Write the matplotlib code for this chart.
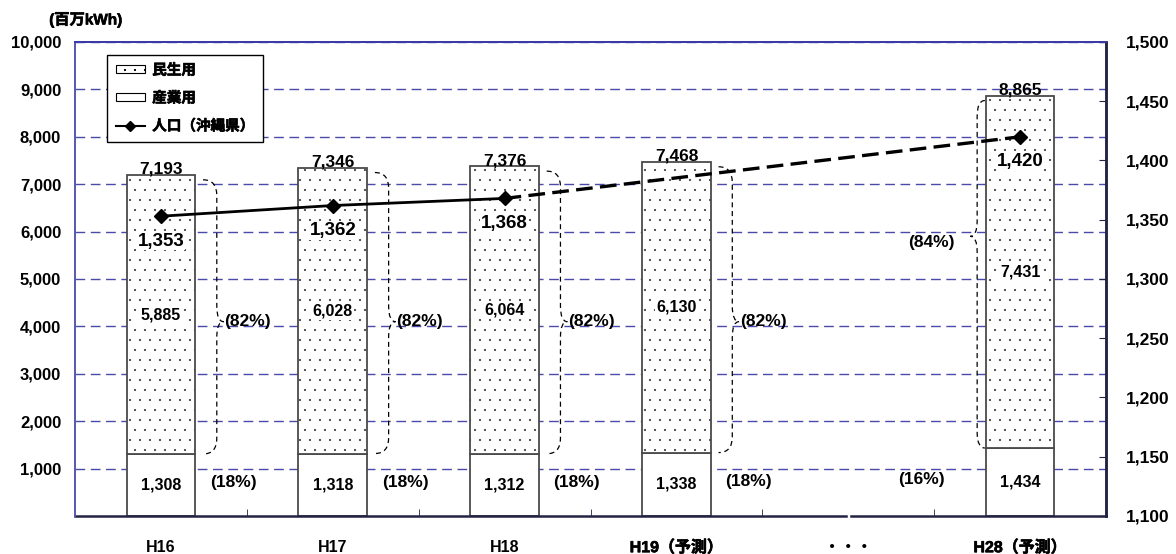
import matplotlib
matplotlib.use('Agg')
import matplotlib.pyplot as plt
import matplotlib.hatch as mhatch
import matplotlib.patheffects as pe
from matplotlib.path import Path
from matplotlib.patches import PathPatch, Patch
from matplotlib.lines import Line2D
from matplotlib.ticker import FuncFormatter

plt.rcParams['font.family'] = ['Liberation Sans', 'Noto Sans CJK JP']
plt.rcParams['font.weight'] = 'bold'
plt.rcParams['hatch.linewidth'] = 0.7


# sparser, finer dot hatch than the stock '.' one (closer to the original screen tone)
class SparseDots(mhatch.Circles):
    size = 0.06
    filled = True

    def __init__(self, hatch, density):
        self.num_rows = hatch.count('.') * 10
        super().__init__(hatch, density)


mhatch._hatch_types = [SparseDots if c is mhatch.SmallFilledCircles else c
                       for c in mhatch._hatch_types]

# data
categories = ['H16', 'H17', 'H18', 'H19（予測）', '・・・', 'H28（予測）']
bar_pos = [0, 1, 2, 3, 5]
sangyo = [1308, 1318, 1312, 1338, 1434]      # 産業用
minsei = [5885, 6028, 6064, 6130, 7431]      # 民生用
totals = [7193, 7346, 7376, 7468, 8865]
minsei_pct = [82, 82, 82, 82, 84]
sangyo_pct = [18, 18, 18, 18, 16]
pop_pos = [0, 1, 2, 5]
population = [1353, 1362, 1368, 1420]        # 人口(沖縄県)

EDGE = '#4a4a4a'
GRID = '#4a4aaa'
W = 0.4
BOLDER = [pe.withStroke(linewidth=0.45, foreground='black')]


def brace(ax, x_edge, side, y_top, y_bot, y_tip, d0, d1, d2, r=330):
    xs = x_edge + side * d0
    xv = x_edge + side * d1
    xt = x_edge + side * d2
    verts = [(xs, y_top), (xv, y_top), (xv, y_top - r),
             (xv, y_tip + r), (xv, y_tip), (xt, y_tip),
             (xv, y_tip), (xv, y_tip - r),
             (xv, y_bot + r), (xv, y_bot), (xs, y_bot)]
    codes = [Path.MOVETO, Path.CURVE3, Path.CURVE3,
             Path.LINETO, Path.CURVE3, Path.CURVE3,
             Path.CURVE3, Path.CURVE3,
             Path.LINETO, Path.CURVE3, Path.CURVE3]
    ax.add_patch(PathPatch(Path(verts, codes), fill=False, lw=0.9,
                           ls=(0, (4, 3)), ec='black', zorder=4))
    return xt


fig = plt.figure(figsize=(11.76, 5.54), dpi=100)
ax = fig.add_axes([0.0638, 0.0686, 0.8767, 0.8556])
ax2 = ax.twinx()

ax.set_axisbelow(True)
ax.bar(bar_pos, sangyo, width=W, color='white', edgecolor=EDGE, lw=1.3, zorder=2)
ax.bar(bar_pos, minsei, bottom=sangyo, width=W, color='white', edgecolor=EDGE,
       hatch='.', lw=1.3, zorder=2)

for i, x in enumerate(bar_pos):
    s, m, t = sangyo[i], minsei[i], totals[i]
    ax.text(x, t - 40, f'{t:,}', ha='center', va='bottom', fontsize=12.5, zorder=5)
    ax.text(x, s + m / 2, f'{m:,}', ha='center', va='center', fontsize=11.5, zorder=5,
            bbox=dict(fc='white', ec='none', pad=1))
    ax.text(x, s / 2, f'{s:,}', ha='center', va='center', fontsize=11.5, zorder=5)
    if x < 4:
        xt = brace(ax, x + W / 2, 1, t - 100, s, 4100, 0.045, 0.125, 0.165)
        ax.text(xt + 0.005, 4100, f'({minsei_pct[i]}%)', ha='left', va='center',
                fontsize=12.5)
        ax.text(x + 0.42, s / 2 + 50, f'({sangyo_pct[i]}%)', ha='center', va='center',
                fontsize=12.5)
    else:
        xt = brace(ax, x - W / 2, -1, t - 100, s, 5900, 0.005, 0.05, 0.09)
        ax.text(xt - 0.09, 5780, f'({minsei_pct[i]}%)', ha='right', va='center',
                fontsize=12.5)
        ax.text(x - 0.576, s / 2 + 50, f'({sangyo_pct[i]}%)', ha='center', va='center',
                fontsize=12.5)

# population
ax2.plot(pop_pos[:3], population[:3], color='black', lw=2, zorder=3)
ax2.plot(pop_pos[2:], population[2:], color='black', lw=2.4, ls=(0, (5, 2.2)), zorder=3)
ax2.plot(pop_pos, population, ls='none', marker='D', ms=7.5, color='black', zorder=4)
for x, v in zip(pop_pos, population):
    ax2.annotate(f'{v:,}', (x, v), xytext=(0, -18), textcoords='offset points',
                 ha='center', va='center', fontsize=13.5,
                 bbox=dict(fc='white', ec='none', pad=0.5))

# axes
ax.set_xlim(-0.5, 5.5)
ax.set_ylim(0, 10000)
ax.set_yticks(range(1000, 10001, 1000))
ax.yaxis.set_major_formatter(FuncFormatter(lambda v, p: f'{int(v):,}'))
ax.tick_params(axis='y', length=0, pad=10, labelsize=12)
ax.grid(axis='y', color=GRID, ls=(0, (7, 4)), lw=1)
ax.set_xticks(range(len(categories)))
ax.set_xticklabels(categories, fontsize=11.5)
for lab in ax.get_xticklabels():
    if '（' in lab.get_text():
        lab.set_path_effects(BOLDER)
ax.set_xticks([0.5, 1.5, 2.5, 3.5, 4.5], minor=True)
ax.tick_params(axis='x', which='major', length=0, pad=17)
ax.tick_params(axis='x', which='minor', direction='in', length=5, color='#222244')

ax2.set_ylim(1100, 1500)
ax2.set_yticks(range(1100, 1501, 50))
ax2.yaxis.set_major_formatter(FuncFormatter(lambda v, p: f'{int(v):,}'))
ax2.tick_params(axis='y', direction='in', length=5, pad=14, labelsize=12.5,
                color='#222244')

for a in (ax, ax2):
    a.spines['bottom'].set_visible(False)
    a.spines['left'].set_color('#5a5ab4')
    a.spines['left'].set_linewidth(1.3)
    a.spines['top'].set_color('#3a3aa8')
    a.spines['top'].set_linewidth(1.3)
    a.spines['right'].set_color('#222244')
    a.spines['right'].set_linewidth(1.8)

# bottom axis line with a small break at the "・・・" slot
ax.axhline(0, xmin=0, xmax=(3.985 + 0.5) / 6, color='#222244', lw=1.8, clip_on=False, zorder=5)
ax.axhline(0, xmin=(4.015 + 0.5) / 6, xmax=1, color='#222244', lw=1.8, clip_on=False, zorder=5)

handles = [Patch(fc='white', ec='black', hatch='.', lw=0.8),
           Patch(fc='white', ec='black', lw=0.8),
           Line2D([], [], color='black', lw=1.5, marker='D', ms=5)]
labels = ['民生用', '産業用', '人口（沖縄県）']
leg = ax2.legend(handles, labels, loc='upper left', bbox_to_anchor=(0.031, 0.973),
                 fontsize=10.5, frameon=True, fancybox=False, framealpha=1,
                 edgecolor='black', borderaxespad=0, handlelength=2.0,
                 handleheight=0.45, labelspacing=0.95, handletextpad=0.5,
                 borderpad=0.6)
leg.get_frame().set_linewidth(1.0)
for txt in leg.get_texts():
    txt.set_path_effects(BOLDER)

t = fig.text(0.073, 0.964, '(百万kWh)', ha='center', va='center', fontsize=11)
t.set_path_effects(BOLDER)

fig.savefig('out.png', dpi=100)
